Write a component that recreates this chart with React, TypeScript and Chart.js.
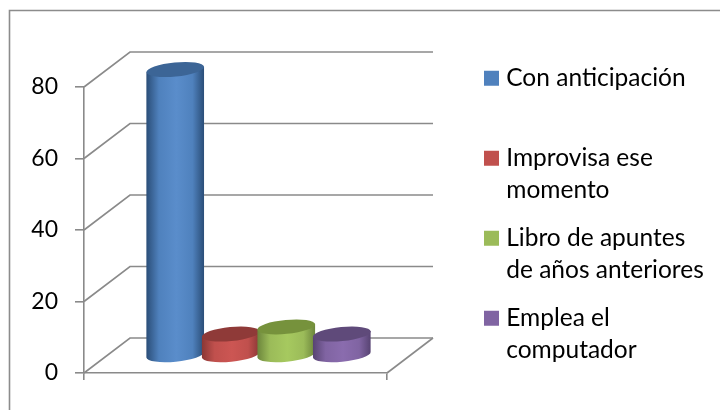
import React, { useEffect, useRef } from "react";
import { Chart, registerables } from "chart.js";

Chart.register(...registerables);

const categories = [""];
const seriesNames = [
  ["Con anticipación", ""],
  ["Improvisa ese", "momento"],
  ["Libro de apuntes", "de años anteriores"],
  ["Emplea el", "computador"],
];
const seriesValues = [80, 6, 8, 6];
const seriesColors = ["#4f81bd", "#c0504d", "#9bbb59", "#8064a2"];
const edgeColors = ["#2a4d77", "#8a3735", "#6c853c", "#574372"];
const brightColors = ["#5a8dcb", "#cc5653", "#a6c95f", "#8a6cae"];
const capColors = ["#3c6596", "#8f3a38", "#76923c", "#5f4a7a"];
const yTicks = [0, 20, 40, 60, 80];

const GRAY = "#8a8a8a";
const FONT = "Lato";
const DEPTH_X = 46;
const DEPTH_Y = -35;
const TILT = (-5.5 * Math.PI) / 180;
const RY = 7;

const scene = {
  id: "scene",
  beforeLayout(chart: any) {
    const l = chart.legend;
    if (l && !l.__wrapped) {
      l.__wrapped = true;
      const fit = l.fit;
      l.fit = function () {
        fit.call(this);
        this.width = 333;
      };
    }
  },
  afterLayout(chart: any) {
    const l = chart.legend;
    if (l) {
      l.left = 473;
      l.top = 50;
      l.bottom = 50 + l.height;
    }
  },
  beforeDatasetsDraw(chart: any) {
    const ctx = chart.ctx;
    const { x, y } = chart.scales;
    ctx.save();
    // outer frame: only the top and left edges show
    ctx.strokeStyle = "#8c8c8c";
    ctx.lineWidth = 1.6;
    ctx.beginPath();
    ctx.moveTo(9.5, 410);
    ctx.lineTo(9.5, 10.5);
    ctx.lineTo(720, 10.5);
    ctx.stroke();

    const left = x.left;
    const right = x.right;
    ctx.strokeStyle = GRAY;
    ctx.lineWidth = 1.6;
    y.ticks.forEach((t: any) => {
      const py = y.getPixelForValue(t.value);
      ctx.beginPath();
      ctx.moveTo(left, py);
      ctx.lineTo(left + DEPTH_X, py + DEPTH_Y);
      ctx.lineTo(right + DEPTH_X, py + DEPTH_Y);
      ctx.stroke();
    });
    const y0 = y.getPixelForValue(0);
    ctx.beginPath();
    ctx.moveTo(right, y0);
    ctx.lineTo(right + DEPTH_X, y0 + DEPTH_Y);
    ctx.stroke();
    ctx.restore();
  },
  beforeDatasetDraw() {
    return false;
  },
  afterDatasetsDraw(chart: any) {
    const ctx = chart.ctx;
    seriesValues.forEach((_, i) => {
      const bar = chart.getDatasetMeta(i).data[0];
      const cx = bar.x + DEPTH_X / 2;
      const rx = bar.width / 2 + 1.2;
      const topY = bar.y + DEPTH_Y / 2;
      const baseY = bar.base + DEPTH_Y / 2;
      const dx = rx * Math.cos(TILT);
      const dy = rx * Math.sin(TILT);
      const grad = ctx.createLinearGradient(cx - rx, 0, cx + rx, 0);
      grad.addColorStop(0, edgeColors[i]);
      grad.addColorStop(0.22, seriesColors[i]);
      grad.addColorStop(0.52, brightColors[i]);
      grad.addColorStop(0.8, seriesColors[i]);
      grad.addColorStop(1, edgeColors[i]);
      ctx.save();
      ctx.fillStyle = grad;
      ctx.beginPath();
      ctx.moveTo(cx + dx, topY + dy);
      ctx.lineTo(cx + dx, baseY + dy);
      ctx.ellipse(cx, baseY, rx, RY, TILT, 0, Math.PI, false);
      ctx.lineTo(cx - dx, topY - dy);
      ctx.closePath();
      ctx.fill();
      ctx.fillStyle = capColors[i];
      ctx.beginPath();
      ctx.ellipse(cx, topY, rx, RY, TILT, 0, Math.PI * 2);
      ctx.fill();
      ctx.restore();
    });
  },
};

export default function App() {
  const ref = useRef<HTMLCanvasElement>(null);
  useEffect(() => {
    const chart = new Chart(ref.current as HTMLCanvasElement, {
      type: "bar",
      data: {
        labels: categories,
        datasets: seriesValues.map((v, i) => ({
          label: seriesNames[i] as any,
          data: [v],
          backgroundColor: seriesColors[i],
          borderWidth: 0,
          categoryPercentage: 0.733,
          barPercentage: 1,
        })),
      },
      options: {
        animation: false,
        responsive: false,
        layout: { padding: { left: 0, right: 0, top: 87, bottom: 0 } },
        scales: {
          x: {
            ticks: { display: false },
            border: { color: GRAY, width: 1.6 },
            grid: { drawOnChartArea: false, tickLength: 7, color: GRAY, lineWidth: 1.6, offset: true },
            afterFit: (s: any) => {
              s.height = 37;
            },
          },
          y: {
            min: 0,
            max: 80,
            afterBuildTicks: (s: any) => {
              s.ticks = yTicks.map((value) => ({ value }));
            },
            ticks: { color: "#000", padding: 17, font: { family: FONT, size: 23 } },
            border: { color: GRAY, width: 1.6 },
            grid: { drawOnChartArea: false, tickLength: 9, color: GRAY, lineWidth: 1.6 },
            afterFit: (s: any) => {
              s.width = 84;
            },
          },
        },
        plugins: {
          tooltip: { enabled: false },
          legend: {
            position: "right",
            align: "start",
            labels: {
              color: "#000",
              font: { family: FONT, size: 24.5, lineHeight: 32 / 24.5 },
              boxWidth: 5,
              boxHeight: 15,
              usePointStyle: true,
              pointStyle: "rect",
              padding: 16,
            },
          },
        },
      } as any,
      plugins: [scene],
    });
    return () => chart.destroy();
  }, []);
  return (
    <canvas
      ref={ref}
      width={720}
      height={410}
      style={{ position: "fixed", left: 0, top: 0, display: "block", width: 720, height: 410 }}
    />
  );
}
